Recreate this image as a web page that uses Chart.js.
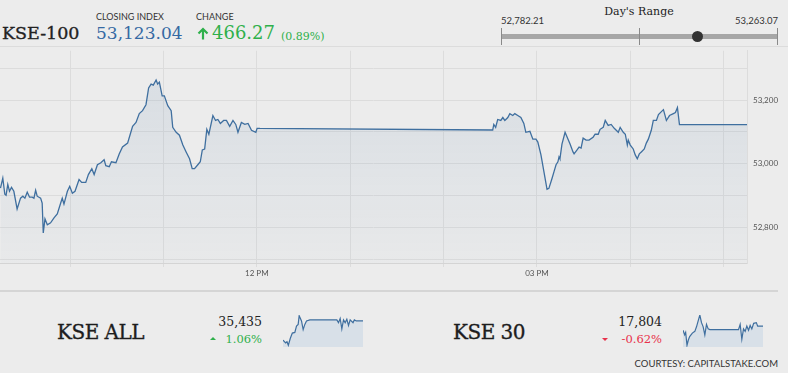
<!DOCTYPE html>
<html>
<head>
<meta charset="utf-8">
<script src="https://cdn.jsdelivr.net/npm/chart.js"></script>
<style>
  body { margin: 0; background: #ececec; width: 788px; height: 373px; overflow: hidden; position: relative; font-family: Lato, sans-serif; }
  .abs { position: absolute; white-space: nowrap; line-height: 1; }
  .serif { font-family: "DejaVu Serif", serif; }
  .heavy { -webkit-text-stroke: 0.35px currentColor; }
  .label { font-size: 9px; color: #333; }
  .green { color: #2fb04b; }
  .red { color: #e8314b; }
  canvas { position: absolute; }
</style>
</head>
<body>

<div class="abs serif heavy" style="left:2px;top:25px;font-size:17.5px;color:#222;">KSE-100</div>
<div class="abs label" style="left:96px;top:12px;">CLOSING INDEX</div>
<div class="abs serif" id="closeVal" style="left:96px;top:25px;font-size:17px;color:#3569a3;"></div>
<div class="abs label" style="left:196px;top:12px;">CHANGE</div>
<svg class="abs" style="left:197px;top:27px;" width="12" height="13">
  <path d="M6 12.5 V2 M1.5 6.5 L6 2 L10.5 6.5" stroke="#2fb04b" stroke-width="2.2" fill="none"/>
</svg>
<div class="abs serif green" id="changeVal" style="left:212px;top:24px;font-size:18px;"></div>
<div class="abs serif green" id="changePct" style="left:281px;top:31px;font-size:11px;"></div>

<!-- day's range -->
<div class="abs serif" style="left:589px;width:100px;text-align:center;top:5.5px;font-size:11px;color:#222;">Day's Range</div>
<div class="abs" id="lowVal" style="left:501px;top:15.5px;font-size:9.5px;color:#333;"></div>
<div class="abs" id="highVal" style="left:698px;width:80px;text-align:right;top:15.5px;font-size:9.5px;color:#333;"></div>
<div class="abs" style="left:501px;top:34px;width:277px;height:5px;background:#a7a7a7;"></div>
<div class="abs" style="left:501px;top:28px;width:1px;height:17px;background:#8a8a8a;"></div>
<div class="abs" style="left:639px;top:28px;width:1px;height:17px;background:#8a8a8a;"></div>
<div class="abs" style="left:777px;top:28px;width:1px;height:17px;background:#8a8a8a;"></div>
<div class="abs" id="rangeDot" style="top:31px;width:11px;height:11px;border-radius:50%;background:#333;"></div>

<div class="abs" style="left:0;top:46px;width:788px;height:1px;background:#dcdcdc;"></div>

<canvas id="mainChart" width="788" height="245" style="left:0;top:40px;"></canvas>

<div class="abs" style="left:0;top:290px;width:778px;height:2px;background:#d5d5d5;"></div>

<!-- bottom indices -->
<div class="abs serif heavy" style="left:57px;top:321.5px;font-size:20px;letter-spacing:-0.5px;color:#1d1d1d;">KSE ALL</div>
<div class="abs serif" id="allVal" style="left:200px;width:62px;text-align:right;top:315.5px;font-size:12.5px;color:#222;"></div>
<div class="abs" style="left:210px;top:337px;width:0;height:0;border-left:3px solid transparent;border-right:3px solid transparent;border-bottom:3px solid #2fb04b;"></div>
<div class="abs serif green" id="allPct" style="left:200px;width:62px;text-align:right;top:333.5px;font-size:11.5px;"></div>
<canvas id="allSpark" width="80" height="32" style="left:283px;top:315px;"></canvas>

<div class="abs serif heavy" style="left:453px;top:321.5px;font-size:20px;letter-spacing:-0.5px;color:#1d1d1d;">KSE 30</div>
<div class="abs serif" id="k30Val" style="left:600px;width:62px;text-align:right;top:315.5px;font-size:12.5px;color:#222;"></div>
<div class="abs" style="left:602px;top:338px;width:0;height:0;border-left:3px solid transparent;border-right:3px solid transparent;border-top:3px solid #e8314b;"></div>
<div class="abs serif red" id="k30Pct" style="left:600px;width:62px;text-align:right;top:333.5px;font-size:11.5px;"></div>
<canvas id="k30Spark" width="80" height="32" style="left:683px;top:315px;"></canvas>

<div class="abs" style="left:600px;width:178px;text-align:right;top:358.5px;font-size:9.5px;color:#333;">COURTESY: CAPITALSTAKE.COM</div>

<script>
// header numbers
var closingIndex = 53123.04;
var change = 466.27;
var changePct = 0.89;
var dayLow = 52782.21;
var dayHigh = 53263.07;

// session runs 9:15 to 17:15, times are minutes since midnight
var dayStart = 555;
var dayEnd = 1035;

var times = [555.3,556.8,558.1,558.9,560,561.1,562.4,563.9,566,568.2,569.7,571,572.5,574,575.7,576.8,577.9,578.9,581.1,582.1,
  582.8,583.9,585.4,587.5,589.7,591.8,594,595,596.1,598.3,599.8,601.5,603.2,605.8,607.5,610.1,611.8,614,615.5,617.6,
  619.8,621.9,623,625.2,626.6,629.5,631.6,633.7,637,638.5,640.2,642.4,644.5,646.6,648.8,650.5,652.1,653.5,655.3,656.3,
  657.4,659.2,660.6,662.8,665,666,668.2,670.3,672.5,674.6,676.8,678.5,680,682.1,683.7,685,686.5,687.9,689.2,691.8,
  693.5,695,696.6,698.7,700.5,702.6,704.7,706.5,707.9,710.1,712.3,714.4,716.6,719.4,720.2,722,
  871.6,872.3,873.5,874.8,876.8,878.1,879.4,881.3,882.6,884.5,885.8,887.7,889.7,891.6,892.9,
  895.5,897.4,899.4,900.6,902.6,904.5,906.5,907.7,909.7,911,912.3,913.5,914.2,914.8,916.1,918.1,920,921.3,923.2,923.9,
  925.8,927.1,928.4,929.7,931.6,933.5,936.1,937.4,939.4,940.6,942.6,943.9,945.8,947.7,949.7,952.3,953.5,955.5,956.8,958.1,
  958.7,960,961.9,963.2,964.5,965.8,967.1,969,970.3,971.6,973.5,974.8,976.8,978.1,980,981.3,983.2,985.2,987.7,989,
  990.3,991.6,1035];

var kse100 = [52923.7,52954.6,52904.2,52901.1,52935.1,52913.5,52925.8,52913.5,52857.8,52891.8,52898.0,52891.8,52910.4,52894.9,52894.9,52891.8,52916.5,52898.0,52891.8,52876.4,
  52782.2,52826.9,52808.4,52814.5,52830.0,52842.4,52876.4,52891.8,52873.3,52913.5,52928.9,52907.3,52913.5,52950.5,52941.3,52941.3,52966.0,52984.5,52966.0,52996.9,
  53003.1,53012.4,52993.8,52990.7,53006.2,53003.1,53030.9,53052.5,53064.9,53089.6,53117.5,53129.8,53157.6,53166.9,53185.5,53238.0,53250.4,53247.3,53263.1,53250.4,
  53256.6,53213.3,53213.3,53182.4,53166.9,53114.4,53098.9,53089.6,53058.7,53037.1,53015.5,52984.5,52984.5,52996.9,53006.2,53043.3,53046.4,53108.2,53092.7,53151.5,
  53136.0,53139.1,53126.7,53136.0,53136.0,53117.5,53136.0,53123.6,53098.9,53129.8,53123.6,53126.7,53105.1,53098.9,53111.3,53111.0,
  53106.0,53123.6,53114.4,53139.1,53136.0,53145.3,53136.0,53145.3,53157.6,53151.5,53157.6,53151.5,53145.3,53126.7,53098.9,
  53102.0,53077.3,53077.3,53068.0,53027.8,52975.3,52919.6,52922.7,52953.6,52975.3,52996.9,53006.2,53021.6,53015.5,53061.8,53098.9,53077.3,53061.8,53037.1,53030.9,
  53043.3,53052.5,53049.5,53080.4,53074.2,53074.2,53083.5,53092.7,53092.7,53108.2,53114.4,53136.0,53120.5,53123.6,53111.3,53098.9,53114.4,53098.9,53092.7,53058.7,
  53074.2,53058.7,53046.4,53027.8,53015.5,53030.9,53037.1,53046.4,53064.9,53077.3,53105.1,53136.0,53136.0,53154.6,53163.8,53170.0,53136.0,53151.5,53157.6,53160.7,
  53176.2,53123.0,53123.04];

var xTickMinutes = [600, 660, 720, 780, 840, 900, 960, 1020];
var xTickLabels = ['', '', '12 PM', '', '', '03 PM', '', ''];
var yTickValues = [52700, 52800, 52900, 53000, 53100, 53200, 53300];
var yTickLabels = ['', '52,800', '', '53,000', '', '53,200', ''];

// small indices
var kseAllValue = 35435;
var kseAllPct = 1.06;
var kseAllTimes = [555,571,579,587,599,611,626,636,646,652,666,676,686,696,716,878,888,898,908,918,928,938,948,958,975,983,995,1035];
var kseAll = [35215,35183,35195,35155,35235,35295,35303,35375,35395,35495,35435,35335,35395,35435,35447,35447,35415,35463,35343,35447,35415,35455,35383,35447,35415,35447,35435,35435];

var kse30Value = 17804;
var kse30Pct = -0.62;
var kse30Times = [555,565,571,579,587,595,611,626,636,646,656,666,676,686,696,706,716,888,898,908,918,928,938,948,958,968,979,995,1003,1035];
var kse30 = [17780,17754,17768,17694,17724,17744,17764,17774,17800,17834,17868,17824,17800,17754,17814,17788,17784,17784,17814,17728,17788,17774,17804,17780,17808,17788,17820,17824,17804,17804];

function fmt(v, d) {
    return v.toLocaleString('en-US', {minimumFractionDigits: d, maximumFractionDigits: d});
}

document.getElementById('closeVal').textContent = fmt(closingIndex, 2);
document.getElementById('changeVal').textContent = fmt(change, 2);
document.getElementById('changePct').textContent = '(' + fmt(changePct, 2) + '%)';
document.getElementById('lowVal').textContent = fmt(dayLow, 2);
document.getElementById('highVal').textContent = fmt(dayHigh, 2);
var frac = (closingIndex - dayLow) / (dayHigh - dayLow);
document.getElementById('rangeDot').style.left = (501 + frac * 277 - 5.5) + 'px';
document.getElementById('allVal').textContent = fmt(kseAllValue, 0);
document.getElementById('allPct').textContent = fmt(kseAllPct, 2) + '%';
document.getElementById('k30Val').textContent = fmt(kse30Value, 0);
document.getElementById('k30Pct').textContent = fmt(kse30Pct, 2) + '%';

Chart.defaults.font.family = 'Lato';

// main intraday chart
var mainChart = new Chart(document.getElementById('mainChart'), {
    type: 'line',
    data: {
        datasets: [{
            data: times.map(function(t, i) { return {x: t, y: kse100[i]}; }),
            borderColor: '#3f6f9f',
            borderWidth: 1.3,
            pointRadius: 0,
            tension: 0,
            fill: 'start',
            backgroundColor: function(context) {
                var area = context.chart.chartArea;
                if (!area) return 'rgba(63,111,159,0.07)';
                var g = context.chart.ctx.createLinearGradient(0, area.top, 0, area.bottom);
                g.addColorStop(0, 'rgba(63,111,159,0.12)');
                g.addColorStop(1, 'rgba(63,111,159,0.02)');
                return g;
            }
        }]
    },
    options: {
        responsive: false,
        animation: false,
        layout: { padding: { top: 7, left: 0, right: 0, bottom: 0 } },
        plugins: { legend: { display: false }, tooltip: { enabled: false } },
        scales: {
            x: {
                type: 'linear',
                min: dayStart,
                max: dayEnd,
                afterBuildTicks: function(scale) {
                    scale.ticks = xTickMinutes.map(function(v) { return {value: v}; });
                },
                afterFit: function(scale) { scale.height = 22; },
                ticks: {
                    autoSkip: false,
                    maxRotation: 0,
                    padding: 2,
                    color: '#555',
                    font: { size: 8 },
                    callback: function(v) { return xTickLabels[xTickMinutes.indexOf(v)]; }
                },
                grid: { color: '#dcdcdc', tickLength: 4 },
                border: { display: true, color: '#d4d4d4' }
            },
            y: {
                position: 'right',
                min: 52688,
                max: 53355,
                afterBuildTicks: function(scale) {
                    scale.ticks = yTickValues.map(function(v) { return {value: v}; });
                },
                afterFit: function(scale) { scale.width = 41; },
                ticks: {
                    padding: 6,
                    color: '#555',
                    font: { size: 8 },
                    callback: function(v) { return yTickLabels[yTickValues.indexOf(v)]; }
                },
                grid: { color: '#dcdcdc', drawTicks: false },
                border: { display: true, color: '#dcdcdc' }
            }
        }
    }
});

// sparklines
function sparkline(id, xs, ys, lo, hi) {
    return new Chart(document.getElementById(id), {
        type: 'line',
        data: {
            datasets: [{
                data: xs.map(function(t, i) { return {x: t, y: ys[i]}; }),
                borderColor: '#3f6f9f',
                borderWidth: 1.2,
                pointRadius: 0,
                tension: 0,
                fill: 'start',
                backgroundColor: '#d8e0e8'
            }]
        },
        options: {
            responsive: false,
            animation: false,
            layout: { padding: 0 },
            plugins: { legend: { display: false }, tooltip: { enabled: false } },
            scales: {
                x: { type: 'linear', display: false, min: dayStart, max: dayEnd },
                y: { display: false, min: lo, max: hi }
            }
        }
    });
}

sparkline('allSpark', kseAllTimes, kseAll, 35135, 35503);
sparkline('k30Spark', kse30Times, kse30, 17684, 17868);
</script>
</body>
</html>
